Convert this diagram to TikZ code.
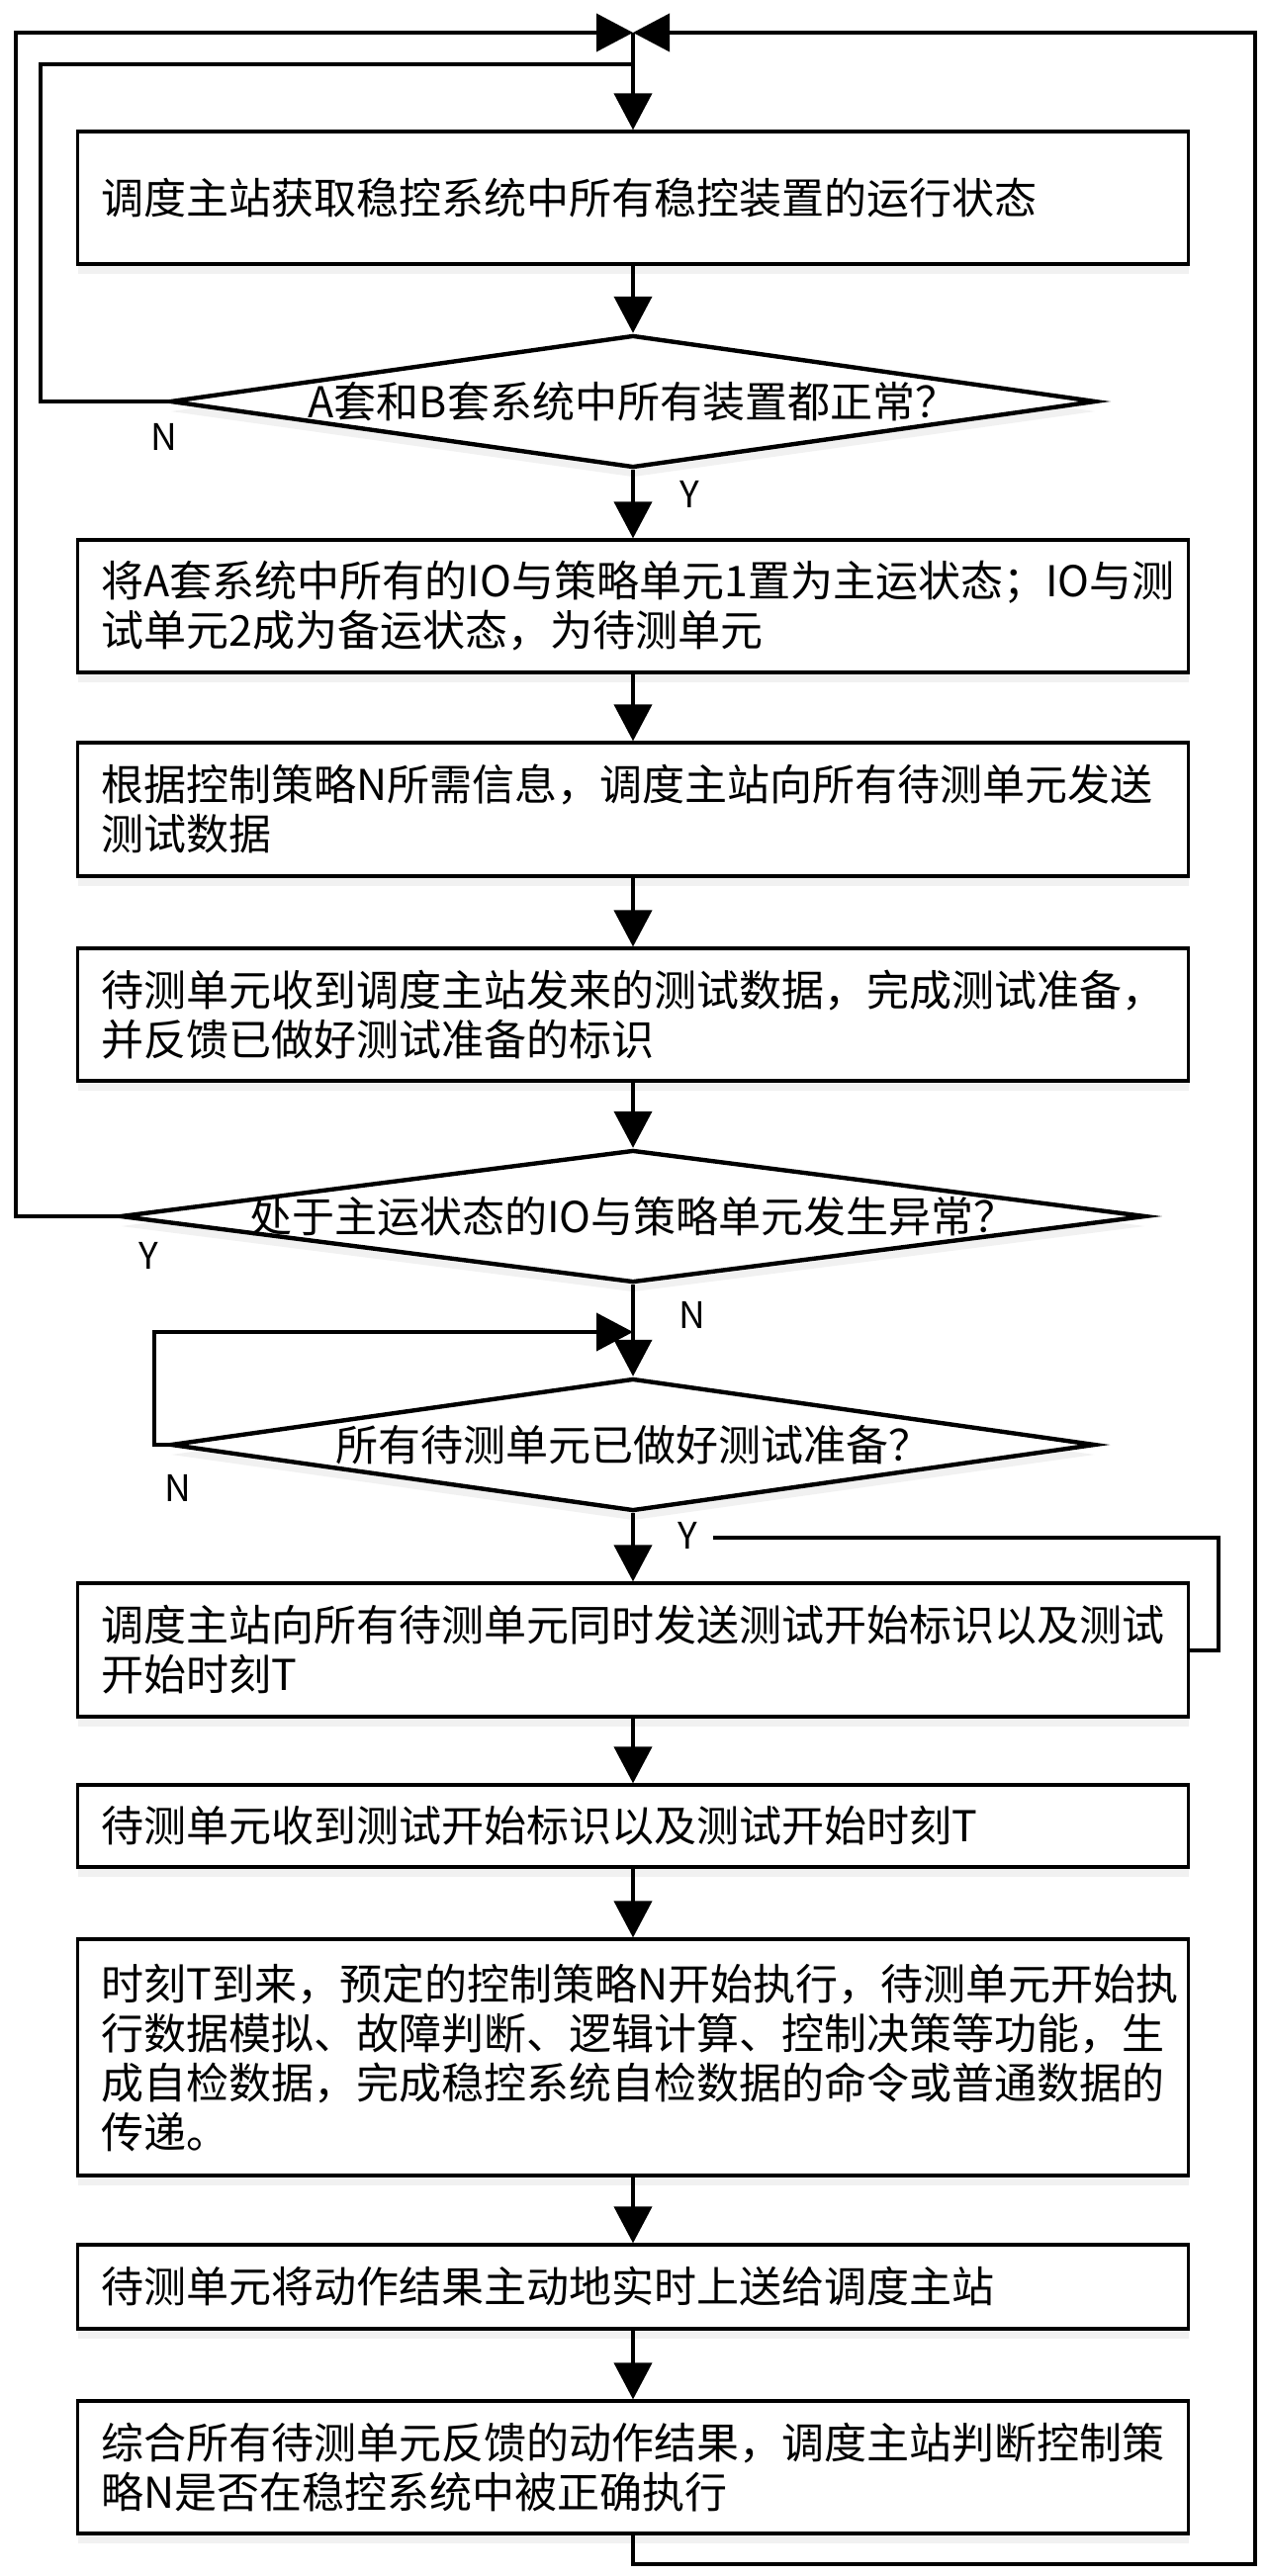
\documentclass[tikz,border=0pt]{standalone}
\usepackage{fontspec}
\newfontfamily\cjk{Noto Sans CJK SC}
\usetikzlibrary{shapes.geometric,arrows.meta,shadows}
\begin{document}
\begin{tikzpicture}[x=0.5pt,y=-0.5pt,
  shade box/.style={drop shadow={shadow xshift=0pt,shadow yshift=-5pt,fill=black!12,opacity=0.45}},
  proc/.style={draw,line width=1.6pt,fill=white,minimum width=561.5pt,text width=537.5pt,
    inner xsep=12pt,inner ysep=0pt,align=left,font=\cjk\fontsize{21.5}{25}\selectfont,shade box},
  dec/.style={draw,diamond,line width=2.2pt,fill=white,inner sep=0pt,shade box},
  dtext/.style={font=\cjk\fontsize{21.5}{25}\selectfont,inner sep=0pt},
  wire/.style={line width=2pt},
  conn/.style={wire,-{Triangle[length=18.5pt,width=19pt]}},
  lbl/.style={font=\cjk\fontsize{18.5}{18.5}\selectfont,inner sep=0pt}]
\useasboundingbox (0,0) rectangle (1279,2605);

\node[proc,minimum height=67pt] (b1) at (640,200) {调度主站获取稳控系统中所有稳控装置的运行状态};
\node[dec,minimum width=468pt,minimum height=67pt,label={[dtext]center:A套和B套系统中所有装置都正常？}] (d1) at (640,406) {};
\node[proc,minimum height=67pt] (b2) at (640,613) {将A套系统中所有的IO与策略单元1置为主运状态；IO与测\\试单元2成为备运状态，为待测单元};
\node[proc,minimum height=67.5pt] (b3) at (640,818.5) {根据控制策略N所需信息，调度主站向所有待测单元发送\\测试数据};
\node[proc,minimum height=67pt] (b4) at (640,1026) {待测单元收到调度主站发来的测试数据，完成测试准备，\\并反馈已做好测试准备的标识};
\node[dec,minimum width=518.5pt,minimum height=67pt,label={[dtext]center:处于主运状态的IO与策略单元发生异常？}] (d2) at (640,1230) {};
\node[dec,minimum width=467.5pt,minimum height=67pt,label={[dtext]center:所有待测单元已做好测试准备？}] (d3) at (640,1461) {};
\node[proc,minimum height=67.5pt] (b6) at (640,1668.5) {调度主站向所有待测单元同时发送测试开始标识以及测试\\开始时刻T};
\node[proc,minimum height=41.5pt] (b7) at (640,1846.5) {待测单元收到测试开始标识以及测试开始时刻T};
\node[proc,minimum height=119.5pt] (b8) at (640,2080.5) {时刻T到来，预定的控制策略N开始执行，待测单元开始执\\行数据模拟、故障判断、逻辑计算、控制决策等功能，生\\成自检数据，完成稳控系统自检数据的命令或普通数据的\\传递。};
\node[proc,minimum height=42.5pt] (b9) at (640,2312.5) {待测单元将动作结果主动地实时上送给调度主站};
\node[proc,minimum height=67pt] (b10) at (640,2495) {综合所有待测单元反馈的动作结果，调度主站判断控制策\\略N是否在稳控系统中被正确执行};

\coordinate (top) at (640,33);
\coordinate (j1) at (640,65);
\coordinate (j3) at (640,1347);
\coordinate (yend) at (721,1555);

\draw[conn] (top) -- (b1.north);
\draw[conn] (b1.south) -- (d1.north);
\draw[conn] (d1.south) -- (b2.north);
\draw[conn] (b2.south) -- (b3.north);
\draw[conn] (b3.south) -- (b4.north);
\draw[conn] (b4.south) -- (d2.north);
\draw[conn] (d2.south) -- (d3.north);
\draw[conn] (d3.south) -- (b6.north);
\draw[conn] (b6.south) -- (b7.north);
\draw[conn] (b7.south) -- (b8.north);
\draw[conn] (b8.south) -- (b9.north);
\draw[conn] (b9.south) -- (b10.north);

\draw[wire] (d1.west) -| (41,65) -- (j1);
\draw[conn] (d2.west) -| (16,33) -- (top);
\draw[conn] (b10.south) -- ++(0,29) -| (1269,33) -- (top);
\draw[conn] (d3.west) -| (156,1347) -- (j3);
\draw[wire] (b6.east) -- ++(29,0) |- (yend);

\node[lbl] (n1) at (166,442) {N};
\node[lbl] (y1) at (697,500) {Y};
\node[lbl] (y2) at (150,1270) {Y};
\node[lbl] (n2) at (700,1330) {N};
\node[lbl] (n3) at (180,1505) {N};
\node[lbl] (y3) at (695,1553) {Y};
\end{tikzpicture}
\end{document}
